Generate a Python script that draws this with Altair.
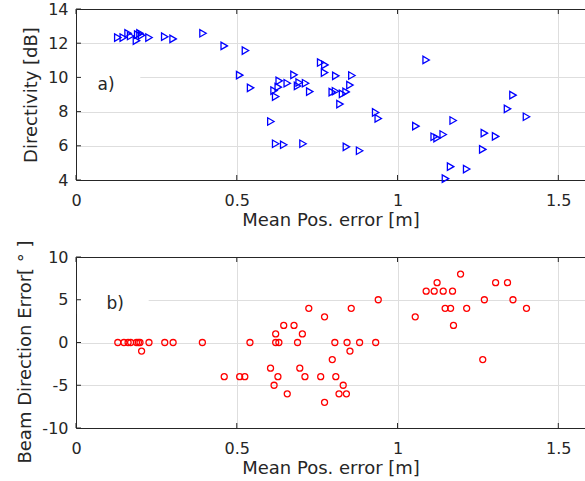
import altair as alt
import pandas as pd

# ---------------- data ----------------
# Panel a): Mean position error [m] vs directivity [dB]
pos_err_a = [0.130, 0.147, 0.162, 0.170, 0.188, 0.192, 0.199, 0.204, 0.227, 0.276,
             0.302, 0.395, 0.461, 0.509, 0.527, 0.543, 0.606, 0.616, 0.621, 0.621,
             0.629, 0.632, 0.646, 0.657, 0.678, 0.689, 0.694, 0.706, 0.714, 0.727,
             0.761, 0.773, 0.774, 0.797, 0.807, 0.808, 0.821, 0.829, 0.840, 0.841,
             0.852, 0.858, 0.882, 0.932, 0.940, 1.057, 1.089, 1.114, 1.123, 1.142,
             1.149, 1.165, 1.173, 1.215, 1.265, 1.270, 1.305, 1.342, 1.359, 1.401]
directivity = [12.33, 12.33, 12.58, 12.42, 12.15, 12.50, 12.58, 12.46, 12.33, 12.38,
               12.25, 12.58, 11.84, 10.13, 11.57, 9.39, 7.42, 9.23, 6.12, 8.88,
               9.43, 9.80, 6.06, 9.66, 10.15, 9.50, 9.70, 6.12, 9.66, 9.17,
               10.87, 10.28, 10.73, 9.14, 9.19, 10.09, 8.44, 9.04, 9.15, 5.94,
               9.55, 10.11, 5.71, 7.95, 7.60, 7.15, 11.02, 6.53, 6.45, 6.66,
               4.08, 4.78, 7.48, 4.64, 5.79, 6.74, 6.55, 8.16, 8.96, 7.70]

# Panel b): Mean position error [m] vs beam direction error [deg]
pos_err_b = [0.130, 0.149, 0.162, 0.170, 0.188, 0.194, 0.199, 0.204, 0.227, 0.276,
             0.302, 0.393, 0.461, 0.509, 0.525, 0.541, 0.605, 0.616, 0.621, 0.621,
             0.628, 0.631, 0.646, 0.657, 0.678, 0.689, 0.696, 0.704, 0.712, 0.724,
             0.761, 0.773, 0.773, 0.797, 0.805, 0.808, 0.818, 0.831, 0.841, 0.843,
             0.852, 0.856, 0.882, 0.932, 0.940, 1.055, 1.089, 1.114, 1.123, 1.142,
             1.148, 1.165, 1.171, 1.174, 1.196, 1.215, 1.265, 1.270, 1.305, 1.342,
             1.359, 1.401]
beam_err = [0, 0, 0, 0, 0, 0, 0, -1, 0, 0,
            0, 0, -4, -4, -4, 0, -3, -5, 1, 0,
            -4, 0, 2, -6, 2, 0, -3, 1, -4, 4,
            -4, 3, -7, -2, 0, -4, -6, -5, -6, 0,
            -1, 4, 0, 0, 5, 3, 6, 6, 7, 6,
            4, 4, 6, 2, 8, 4, -2, 5, 7, 7,
            5, 4]

x_ticks = [0, 0.5, 1, 1.5]
dir_ticks = [4, 6, 8, 10, 12, 14]
beam_ticks = [-10, -5, 0, 5, 10]

panel_labels = ["a)", "b)"]
x_title = "Mean Pos. error [m]"
y_title_a = "Directivity [dB]"
y_title_b = "Beam Direction Error[ ° ]"

# ---------------- style ----------------
FONT = "DejaVu Sans"
INK = "#262626"
GRID = "#dedede"
W, H = 509, 171
XMAX = 1.583


def panel(xv, yv, ydom, yticks, ytitle, title_shift, shape, color, size, label, lab_pos, box):
    df = pd.DataFrame({"x": xv, "y": yv})
    xs = alt.Scale(domain=[0, XMAX], nice=False, zero=False)
    ys = alt.Scale(domain=ydom, nice=False, zero=False)

    box_df = pd.DataFrame([box])
    rect = alt.Chart(box_df).mark_rect(color="white").encode(
        x=alt.X("x1:Q", scale=xs, axis=None), x2="x2:Q",
        y=alt.Y("y1:Q", scale=ys, axis=None), y2="y2:Q")

    pts = alt.Chart(df).mark_point(shape=shape, filled=False, color=color, size=size,
                                   strokeWidth=1.3, opacity=1).encode(
        x=alt.X("x:Q", scale=xs,
                axis=alt.Axis(values=x_ticks, labelExpr="datum.value + ''", title=x_title,
                              grid=True, labelPadding=12, titlePadding=3)),
        y=alt.Y("y:Q", scale=ys,
                axis=alt.Axis(values=yticks, labelExpr="datum.value + ''", title=ytitle,
                              grid=True, labelPadding=8, titlePadding=7,
                              titleY=H / 2 + title_shift)))

    lab_df = pd.DataFrame({"t": [label], "x": [lab_pos[0]], "y": [lab_pos[1]]})
    txt = alt.Chart(lab_df).mark_text(align="left", baseline="middle", font=FONT,
                                      fontSize=17, color=INK).encode(
        x=alt.X("x:Q", scale=xs, axis=None), y=alt.Y("y:Q", scale=ys, axis=None), text="t:N")

    xt = pd.DataFrame({"t": x_ticks})
    yt = pd.DataFrame({"t": yticks})
    top_ticks = alt.Chart(xt).mark_rule(color=INK, strokeWidth=1).encode(
        x=alt.X("t:Q", scale=xs, axis=alt.Axis(orient="top", labels=False, ticks=False,
                                               grid=False, domain=True, title=None)),
        y=alt.value(0), y2=alt.value(5))
    bot_ticks = alt.Chart(xt).mark_rule(color=INK, strokeWidth=1).encode(
        x=alt.X("t:Q", scale=xs, axis=None), y=alt.value(H), y2=alt.value(H - 5))
    left_ticks = alt.Chart(yt).mark_rule(color=INK, strokeWidth=1).encode(
        y=alt.Y("t:Q", scale=ys, axis=None), x=alt.value(0), x2=alt.value(5))

    return alt.layer(rect, pts, txt, top_ticks, bot_ticks, left_ticks).resolve_axis(
        x="independent", y="independent").properties(width=W, height=H)


top = panel(pos_err_a, directivity, [4, 14], dir_ticks, y_title_a, 0, "triangle-right",
            "#0000ff", 55, panel_labels[0], (0.067, 9.56),
            {"x1": 0.003, "x2": 0.2, "y1": 9.1, "y2": 10.45})
bottom = panel(pos_err_b, beam_err, [-10, 10], beam_ticks, y_title_b, 9, "circle",
               "#ff0000", 36, panel_labels[1], (0.095, 4.53),
               {"x1": 0.003, "x2": 0.226, "y1": 3.3, "y2": 5.8})

chart = alt.vconcat(top, bottom, spacing=10).properties(
    padding={"left": 16, "top": 1, "right": 0, "bottom": 0},
    background="white"
).configure_view(stroke=None).configure_axis(
    domainColor=INK, domainWidth=1, ticks=False, gridColor=GRID, gridWidth=1,
    labelFont=FONT, labelFontSize=16, labelColor=INK, labelFlush=False,
    titleFont=FONT, titleFontSize=18, titleFontWeight="normal", titleColor=INK
)

chart.save("out.html", embed_options={"renderer": "svg", "actions": False})
